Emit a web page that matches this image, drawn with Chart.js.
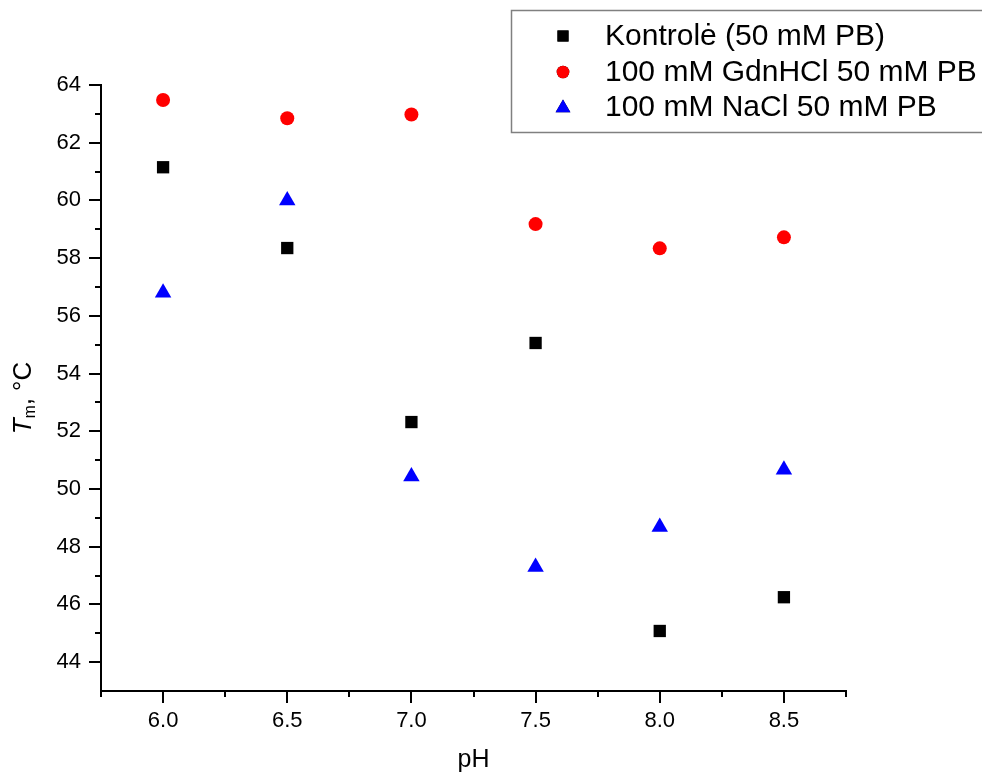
<!DOCTYPE html>
<html>
<head>
<meta charset="utf-8">
<script src="https://cdn.jsdelivr.net/npm/chart.js@4"></script>
<style>
  html, body { margin: 0; padding: 0; background: #fff; }
  #wrap { width: 982px; height: 778px; }
</style>
</head>
<body>
<div id="wrap"><canvas id="chart" width="982" height="778"></canvas></div>
<script>
const phValues = [6.0, 6.5, 7.0, 7.5, 8.0, 8.5]
const kontrole = [61.15, 58.35, 52.32, 55.06, 45.08, 46.25]
const gdnhcl = [63.48, 62.85, 62.98, 59.18, 58.34, 58.72]
const nacl = [56.8, 60.0, 50.43, 47.3, 48.68, 50.67]

const seriesNames = ['Kontrolė (50 mM PB)', '100 mM GdnHCl 50 mM PB', '100 mM NaCl 50 mM PB']
const xMajorTicks = [6.0, 6.5, 7.0, 7.5, 8.0, 8.5]
const xMinorTicks = [5.75, 6.25, 6.75, 7.25, 7.75, 8.25, 8.75]
const yMajorTicks = [44, 46, 48, 50, 52, 54, 56, 58, 60, 62, 64]
const yMinorTicks = [45, 47, 49, 51, 53, 55, 57, 59, 61, 63]

const FONT = '"Liberation Sans", Arial, sans-serif'

const toPoints = (ys) => phValues.map((x, i) => ({ x: x, y: ys[i] }))

// short minor ticks, drawn through the scales
const minorTicks = {
  id: 'minorTicks',
  afterDraw(chart) {
    const ctx = chart.ctx
    const xs = chart.scales.x
    const ys = chart.scales.y
    const area = chart.chartArea
    ctx.save()
    ctx.strokeStyle = '#000'
    ctx.lineWidth = 2
    ctx.beginPath()
    xMinorTicks.forEach(v => {
      const px = Math.round(xs.getPixelForValue(v))
      ctx.moveTo(px, area.bottom)
      ctx.lineTo(px, area.bottom + 6)
    })
    yMinorTicks.forEach(v => {
      const py = Math.round(ys.getPixelForValue(v))
      ctx.moveTo(area.left, py)
      ctx.lineTo(area.left - 6, py)
    })
    ctx.stroke()
    ctx.restore()
  }
}

// y title with italic T and subscript m
const yTitle = {
  id: 'yTitle',
  afterDraw(chart) {
    const ctx = chart.ctx
    const area = chart.chartArea
    const size = 26
    ctx.save()
    ctx.translate(24, (area.top + area.bottom) / 2 + 10)
    ctx.rotate(-Math.PI / 2)
    ctx.fillStyle = '#000'
    ctx.textBaseline = 'middle'
    ctx.font = 'italic ' + size + 'px ' + FONT
    const wT = ctx.measureText('T').width
    ctx.font = (size * 0.6) + 'px ' + FONT
    const wm = ctx.measureText('m').width
    ctx.font = size + 'px ' + FONT
    const rest = ', °C'
    const wr = ctx.measureText(rest).width
    let x = -(wT + wm + wr) / 2
    ctx.textAlign = 'left'
    ctx.font = 'italic ' + size + 'px ' + FONT
    ctx.fillText('T', x, 0)
    x += wT
    ctx.font = (size * 0.6) + 'px ' + FONT
    ctx.fillText('m', x, 7)
    x += wm
    ctx.font = size + 'px ' + FONT
    ctx.fillText(rest, x, 0)
    ctx.restore()
  }
}

// boxed legend at the top right, partly outside the plot
const boxLegend = {
  id: 'boxLegend',
  afterDraw(chart) {
    const ctx = chart.ctx
    const left = 511, top = 10, bottom = 132
    ctx.save()
    ctx.strokeStyle = '#808080'
    ctx.lineWidth = 1.5
    ctx.beginPath()
    ctx.moveTo(chart.width + 5, top + 0.5)
    ctx.lineTo(left + 0.5, top + 0.5)
    ctx.lineTo(left + 0.5, bottom + 0.5)
    ctx.lineTo(chart.width + 5, bottom + 0.5)
    ctx.stroke()
    const rows = [36, 72, 107]
    chart.data.datasets.forEach((ds, i) => {
      const r = ds.pointRadius * 0.9
      Chart.helpers.drawPoint(ctx, {
        pointStyle: ds.pointStyle,
        radius: r,
        rotation: 0,
        borderWidth: 0
      }, 563, rows[i] + (ds.pointStyle === 'triangle' ? 1 : 0))
      ctx.fillStyle = ds.backgroundColor
      ctx.fill()
      ctx.fillStyle = '#000'
      ctx.font = '30px ' + FONT
      ctx.textBaseline = 'middle'
      ctx.textAlign = 'left'
      ctx.fillText(ds.label, 605, rows[i] + 1)
    })
    ctx.restore()
  }
}

new Chart(document.getElementById('chart'), {
  type: 'scatter',
  data: {
    datasets: [
      {
        label: seriesNames[0],
        data: toPoints(kontrole),
        pointStyle: 'rect',
        pointRadius: 8.7,
        backgroundColor: '#000000',
        borderWidth: 0
      },
      {
        label: seriesNames[1],
        data: toPoints(gdnhcl),
        pointStyle: 'circle',
        pointRadius: 7,
        backgroundColor: '#ff0000',
        borderWidth: 0
      },
      {
        label: seriesNames[2],
        data: toPoints(nacl),
        pointStyle: 'triangle',
        pointRadius: 9.5,
        backgroundColor: '#0000ff',
        borderWidth: 0
      }
    ]
  },
  options: {
    responsive: false,
    animation: false,
    layout: { padding: { top: 85, right: 136, left: 0, bottom: 0 } },
    plugins: {
      legend: { display: false },
      tooltip: { enabled: false }
    },
    scales: {
      x: {
        type: 'linear',
        min: 5.75,
        max: 8.75,
        afterBuildTicks: (scale) => { scale.ticks = xMajorTicks.map(v => ({ value: v })) },
        afterFit: (scale) => { scale.height = 87 },
        border: { display: true, color: '#000', width: 2 },
        grid: { drawOnChartArea: false, drawTicks: true, tickLength: 12, color: '#000', lineWidth: 2 },
        ticks: {
          color: '#000',
          font: { family: FONT, size: 22 },
          padding: 5,
          maxRotation: 0,
          callback: (v) => Number(v).toFixed(1)
        },
        title: {
          display: true,
          text: 'pH',
          color: '#000',
          font: { family: FONT, size: 25 },
          padding: { top: 0, bottom: 3 }
        }
      },
      y: {
        type: 'linear',
        min: 43,
        max: 64,
        afterBuildTicks: (scale) => { scale.ticks = yMajorTicks.map(v => ({ value: v })) },
        afterFit: (scale) => { scale.width = 101 },
        border: { display: true, color: '#000', width: 2 },
        grid: { drawOnChartArea: false, drawTicks: true, tickLength: 12, color: '#000', lineWidth: 2 },
        ticks: {
          color: '#000',
          font: { family: FONT, size: 22 },
          padding: 8,
          callback: (v) => String(v)
        }
      }
    }
  },
  plugins: [minorTicks, yTitle, boxLegend]
})
</script>
</body>
</html>
